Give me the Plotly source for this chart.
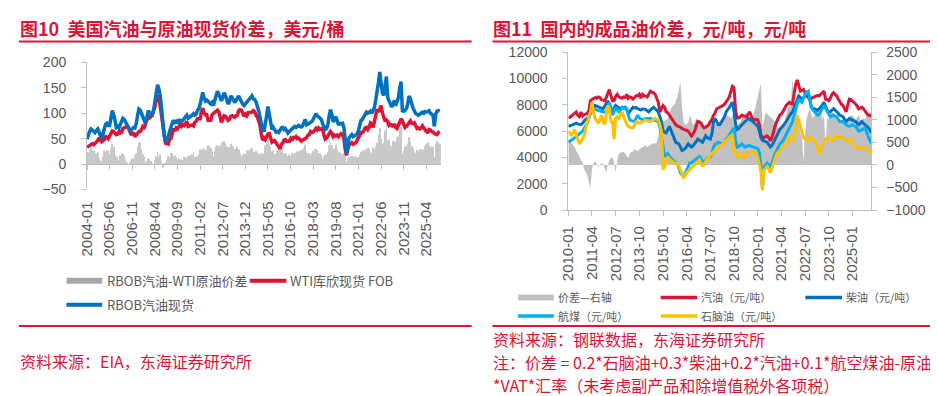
import plotly.graph_objects as go
import pandas as pd

# ---------------- data: left chart (USD/bbl, monthly from 2004-01) ----------------
rbob_spot = [
    49, 58, 64, 69, 67, 64, 62, 66, 69, 63, 55, 50,          # 2004
    60, 74, 78, 80, 76, 76, 88, 105, 98, 80, 72, 74,         # 2005
    71, 78, 84, 90, 88, 82, 77, 72, 68, 66, 70, 72,          # 2006
    71, 80, 95, 108, 106, 96, 93, 86, 80, 92, 105, 101,      # 2007
    99, 97, 105, 120, 140, 156, 148, 135, 110, 70, 55, 45,   # 2008
    48, 55, 61, 72, 80, 86, 82, 84, 80, 86, 86, 85,          # 2009
    86, 90, 94, 96, 90, 93, 94, 96, 99, 96, 98, 105,         # 2010
    109, 118, 131, 141, 130, 124, 126, 123, 121, 118, 121, 115,  # 2011
    125, 137, 143, 138, 130, 124, 132, 140, 135, 124, 118, 122,  # 2012
    134, 131, 126, 121, 125, 130, 134, 128, 121, 118, 115, 118,  # 2013
    122, 124, 128, 132, 134, 128, 127, 122, 115, 105, 92, 80,    # 2014
    68, 64, 85, 95, 113, 100, 85, 68, 72, 66, 63, 64,        # 2015
    62, 66, 71, 72, 68, 70, 66, 61, 64, 66, 68, 72,          # 2016
    74, 72, 75, 76, 74, 73, 75, 80, 88, 77, 78, 80,          # 2017
    82, 84, 88, 96, 99, 95, 93, 90, 88, 80, 72, 68,          # 2018
    70, 78, 95, 107, 98, 83, 88, 93, 85, 77, 80, 79,         # 2019
    80, 72, 50, 20, 40, 52, 55, 58, 54, 55, 57, 60,          # 2020
    66, 78, 86, 88, 92, 98, 102, 100, 102, 104, 100, 105,    # 2021
    112, 127, 150, 160, 181, 165, 140, 135, 150, 172, 130, 124,  # 2022
    116, 112, 118, 125, 115, 122, 130, 150, 162, 105, 104, 106,  # 2023
    109, 118, 134, 128, 115, 110, 105, 99, 98, 96, 98, 100,  # 2024
    102, 100, 103, 102, 104, 105, 100, 98, 96, 74, 98, 104,  # 2025
    105, 104,                                                # 2026
]
wti_spot = [
    33, 35, 36, 37, 40, 38, 41, 45, 46, 52, 48, 44,          # 2004
    46, 48, 54, 53, 50, 56, 59, 65, 64, 62, 58, 59,          # 2005
    64, 61, 62, 70, 71, 72, 74, 72, 63, 59, 59, 62,          # 2006
    54, 59, 60, 64, 64, 68, 74, 72, 78, 86, 94, 91,          # 2007
    93, 96, 105, 112, 125, 132, 133, 116, 104, 77, 57, 41,   # 2008
    40, 39, 48, 50, 59, 70, 65, 71, 69, 75, 78, 74,          # 2009
    78, 76, 81, 84, 74, 75, 76, 77, 75, 82, 84, 89,          # 2010
    89, 89, 103, 110, 101, 97, 97, 86, 86, 86, 97, 99,       # 2011
    100, 102, 106, 103, 94, 82, 88, 95, 94, 89, 86, 88,      # 2012
    94, 95, 93, 92, 95, 96, 105, 107, 106, 100, 94, 98,      # 2013
    95, 101, 101, 102, 102, 105, 103, 96, 93, 85, 76, 59,    # 2014
    47, 51, 48, 54, 59, 60, 51, 43, 45, 46, 42, 37,          # 2015
    32, 30, 38, 41, 47, 48, 45, 45, 45, 50, 46, 52,          # 2016
    52, 54, 50, 51, 49, 45, 47, 48, 50, 52, 57, 58,          # 2017
    64, 62, 63, 66, 70, 67, 71, 68, 70, 70, 57, 49,          # 2018
    51, 55, 58, 64, 61, 54, 57, 55, 57, 54, 57, 60,          # 2019
    58, 51, 30, 17, 29, 38, 40, 42, 39, 40, 42, 47,          # 2020
    52, 59, 62, 62, 65, 71, 72, 68, 72, 81, 79, 72,          # 2021
    83, 92, 108, 102, 110, 115, 101, 92, 84, 87, 84, 76,     # 2022
    78, 77, 73, 79, 72, 70, 76, 81, 89, 85, 78, 72,          # 2023
    74, 77, 81, 85, 80, 79, 81, 77, 70, 71, 69, 71,          # 2024
    75, 71, 68, 63, 61, 68, 67, 64, 63, 60, 59, 58,          # 2025
    62, 64,                                                  # 2026
]
left_start = "2004-01-01"
left_ticks = ["2004-01", "2005-06", "2006-11", "2008-04", "2009-09", "2011-02",
              "2012-07", "2013-12", "2015-05", "2016-10", "2018-03", "2019-08",
              "2021-01", "2022-06", "2023-11", "2025-04"]

# ---------------- data: right chart (CNY/t, monthly from 2010-01) ----------------
gasoline = [
    7100, 7050, 7150, 7250, 7300, 7460, 7200, 7100, 7460, 7150, 7250, 7300,   # 2010
    7340, 7600, 8310, 8400, 8500, 8550, 8500, 8600, 8550, 8400, 8350, 8310,   # 2011
    8550, 8900, 9160, 8700, 8310, 8310, 8650, 8800, 8600, 8550, 8500, 8600,   # 2012
    8550, 8800, 8500, 8600, 8550, 8430, 8600, 8700, 8680, 8800, 8500, 8800,   # 2013
    8680, 8680, 8600, 8800, 9040, 8950, 8920, 8800, 8550, 8200, 7460, 7700,   # 2014
    7950, 7800, 7460, 7400, 7220, 7000, 6850, 6700, 6500, 6400, 6370, 6300,   # 2015
    6200, 6120, 6100, 6050, 6000, 5800, 5640, 5800, 6000, 6400, 6730, 6700,   # 2016
    6610, 6400, 6250, 6300, 6370, 6500, 6730, 6900, 7220, 7400, 7700, 7750,   # 2017
    7820, 7900, 7950, 8050, 8190, 8400, 8600, 9000, 9400, 9280, 7500, 7000,   # 2018
    7000, 7100, 7220, 7150, 7100, 7100, 7300, 7460, 7100, 6900, 6850, 6900,   # 2019
    6850, 6500, 5760, 5500, 5520, 5600, 5640, 5500, 5270, 5500, 6000, 6400,   # 2020
    6730, 7000, 7220, 7300, 7460, 7700, 7950, 8100, 8190, 8100, 8070, 8800,   # 2021
    9530, 9890, 9400, 9040, 9100, 9160, 8900, 8680, 8550, 8430, 8500, 8550,   # 2022
    8600, 8680, 8700, 8680, 8800, 8920, 9040, 8430, 8400, 8310, 8500, 8800,   # 2023
    8920, 8800, 8680, 8450, 8190, 8050, 7950, 7700, 7460, 8000, 8430, 8400,   # 2024
    8310, 8200, 8070, 7900, 7700, 7750, 7820, 7700, 7460, 7350, 7220, 7200,   # 2025
    7170,                                                                     # 2026
]
diesel = [
    6370, 6400, 6450, 6500, 6550, 6610, 6550, 6500, 6490, 6600, 6800, 6900,   # 2010
    6970, 7100, 7300, 7460, 7700, 7950, 7900, 7850, 7820, 7750, 7700, 7900,   # 2011
    8100, 8310, 8000, 7700, 7600, 7800, 7950, 7850, 7750, 7700, 7750, 7800,   # 2012
    7820, 7600, 7340, 7500, 7700, 7820, 7750, 7800, 7700, 7650, 7600, 7700,   # 2013
    7700, 7650, 7550, 7460, 7600, 7700, 7820, 7700, 7600, 7460, 7100, 6730,   # 2014
    6000, 5900, 5880, 6100, 6370, 6100, 5760, 5400, 5150, 5100, 5030, 4800,   # 2015
    4540, 4600, 4670, 4850, 5030, 4900, 4790, 4900, 5030, 5200, 5400, 5300,   # 2016
    5200, 5150, 5400, 5640, 5500, 5450, 5400, 5800, 6730, 6970, 6700, 6490,   # 2017
    6500, 6730, 6900, 7100, 7460, 7600, 7800, 8000, 8190, 7500, 6490, 6120,   # 2018
    6200, 6370, 6500, 6600, 6730, 6850, 6970, 6900, 6800, 6730, 6600, 6500,   # 2019
    6370, 6000, 5520, 5300, 5270, 5200, 5150, 5000, 4790, 4900, 5150, 5450,   # 2020
    5760, 5950, 6120, 6250, 6370, 6550, 6730, 6950, 7220, 7350, 7460, 7800,   # 2021
    8190, 8400, 8680, 8550, 8430, 8550, 8680, 8800, 8920, 8400, 7820, 7750,   # 2022
    7700, 7650, 7580, 7700, 7820, 8000, 8190, 7900, 7580, 7500, 7460, 7600,   # 2023
    7700, 7600, 7460, 7350, 7220, 7150, 7100, 6900, 6730, 6850, 6970, 6900,   # 2024
    6850, 6800, 6730, 6600, 6490, 6600, 6730, 6600, 6490, 6400, 6250, 6100,   # 2025
    5880,                                                                     # 2026
]
jet_fuel = [
    5150, 5250, 5300, 5400, 5500, 5550, 5640, 5800, 5900, 6000, 6200, 6400,   # 2010
    6610, 7000, 7460, 7600, 7700, 7650, 7600, 7580, 7500, 7460, 7460, 7460,   # 2011
    7460, 7800, 8190, 7700, 7220, 7500, 7820, 7600, 7460, 7600, 7820, 7750,   # 2012
    7700, 7700, 7200, 6850, 6800, 6750, 6730, 7000, 7220, 7000, 6900, 6850,   # 2013
    6900, 6970, 6950, 6950, 6970, 6900, 6850, 6850, 6800, 6730, 6300, 5520,   # 2014
    4600, 4060, 4200, 4300, 4100, 3940, 3800, 3690, 3600, 3570, 3200, 2840,   # 2015
    2700, 2600, 2800, 3090, 3300, 3570, 3600, 3690, 3750, 3820, 3950, 4060,   # 2016
    3900, 3700, 3570, 3750, 3940, 4000, 4060, 4300, 4790, 5000, 5100, 5150,   # 2017
    5100, 5050, 5030, 5150, 5400, 5500, 5700, 5900, 6100, 6250, 5270, 4790,   # 2018
    4850, 4950, 5030, 4900, 4790, 4850, 4900, 4910, 4850, 4800, 4790, 4750,   # 2019
    4670, 4400, 3330, 1630, 3330, 3400, 3570, 3450, 3330, 3600, 4060, 4300,   # 2020
    4540, 4800, 5030, 5150, 5270, 5500, 5760, 6000, 6250, 6500, 6730, 7200,   # 2021
    7700, 8100, 8430, 8300, 8190, 8500, 8800, 8950, 9040, 8400, 7820, 7600,   # 2022
    7460, 7350, 7220, 7300, 7460, 7700, 7950, 7700, 7460, 7300, 7100, 7150,   # 2023
    7220, 7150, 7100, 6900, 6730, 6730, 6730, 6600, 6490, 6400, 6370, 6450,   # 2024
    6490, 6400, 6370, 6200, 6000, 6050, 6120, 6200, 6250, 5900, 5520, 5300,   # 2025
    5080,                                                                     # 2026
]
naphtha = [
    6000, 5800, 5640, 5900, 6120, 5700, 5300, 5030, 5200, 5400, 5640, 6200,   # 2010
    6730, 7100, 7460, 8190, 7500, 6970, 6800, 6610, 6900, 7220, 6800, 6490,   # 2011
    7200, 7950, 7700, 6730, 6700, 5400, 7000, 7100, 6970, 7200, 7460, 7100,   # 2012
    6730, 6500, 6370, 6300, 6250, 6250, 6500, 6730, 6700, 6610, 6650, 6730,   # 2013
    6800, 6850, 6800, 6750, 6730, 6800, 6900, 6970, 6900, 6850, 6500, 6000,   # 2014
    3090, 3330, 3700, 4060, 3900, 3820, 3700, 3570, 3570, 3570, 3300, 3090,   # 2015
    2800, 2480, 2600, 2840, 2950, 3090, 3200, 3330, 3450, 3570, 3700, 3820,   # 2016
    3600, 3330, 3500, 3690, 3900, 4060, 4200, 4300, 4400, 4540, 4650, 4790,   # 2017
    4850, 4910, 5000, 5150, 5250, 5400, 5550, 5650, 5760, 4540, 4300, 4060,   # 2018
    4200, 4300, 4100, 3940, 4100, 4300, 4300, 4300, 4350, 4420, 4350, 4300,   # 2019
    4000, 3570, 3000, 1510, 3090, 3200, 3330, 3100, 2840, 3200, 3570, 3950,   # 2020
    4300, 4400, 4540, 4650, 4790, 4900, 5030, 5300, 5520, 5400, 5270, 5500,   # 2021
    6000, 7220, 6800, 6490, 6000, 5520, 5400, 5270, 5400, 5520, 5450, 5400,   # 2022
    5200, 5030, 4700, 4300, 4700, 5030, 5200, 5400, 5450, 5520, 5400, 5270,   # 2023
    5400, 5640, 5600, 5520, 5520, 5520, 5450, 5400, 5350, 5270, 5350, 5400,   # 2024
    5100, 4910, 4800, 4670, 4700, 4790, 4790, 4790, 4750, 4670, 4550, 4420,   # 2025
    4420,                                                                     # 2026
]
crack_spread = [
    600, 550, 500, 450, 400, 320, 250, 180, 110, 50, -100, -150,             # 2010
    -240, -400, -525, -100, 50, 80, 20, -30, 0, 40, 20, -100,                # 2011
    -170, 0, 110, 150, 180, 50, -170, 100, 250, 270, 290, 300,               # 2012
    250, 200, 150, 250, 300, 300, 350, 330, 300, 350, 380, 400,              # 2013
    420, 430, 400, 420, 450, 470, 480, 470, 500, 600, 750, 960,              # 2014
    960, 980, 1000, 1030, 1100, 1250, 1300, 1320, 1400, 1500, 1670, 1850,   # 2015
    1300, 960, 900, 890, 950, 1100, 1000, 890, 950, 1030, 1000, 1000,        # 2016
    950, 900, 860, 880, 890, 900, 960, 930, 900, 890, 920, 950,              # 2017
    960, 980, 1000, 1030, 1060, 1100, 1080, 1030, 1100, 1170, 1000, 890,     # 2018
    920, 960, 1030, 1100, 1130, 1170, 1100, 1070, 1080, 1100, 1200, 1350,    # 2019
    1450, 1600, 1810, 820, 1000, 1170, 1130, 1100, 1050, 1030, 1000, 960,    # 2020
    900, 820, 850, 890, 920, 960, 1100, 1250, 1300, 1390, 1920, 1300,        # 2021
    1320, 1100, 960, 700, 610, 80, 700, 1030, 1150, 1250, 1100, 1030,        # 2022
    1100, 1250, 1150, 1170, 1200, 1000, 1100, 450, 1050, 1000, 1100, 1150,   # 2023
    1170, 1100, 1050, 1100, 1000, 950, 1000, 1050, 1000, 950, 1050, 1100,    # 2024
    1100, 1050, 1000, 1050, 1100, 1000, 950, 1050, 1000, 1100, 1150, 1170,   # 2025
    1170,                                                                    # 2026
]
right_start = "2010-01-01"
right_ticks = ["2010-01", "2011-04", "2012-07", "2013-10", "2015-01", "2016-04",
               "2017-07", "2018-10", "2020-01", "2021-04", "2022-07", "2023-10",
               "2025-01"]

# ---------------- styling ----------------
W, H = 938, 396
FONT = "Liberation Sans, Arial, Noto Sans CJK SC, sans-serif"
CJK = "Noto Sans CJK SC, Liberation Sans, sans-serif"
RED = "#DC1436"
BLUE = "#0070C0"
LBLUE = "#00B0F0"
YELLOW = "#FFC000"
TXT = "#595959"
AX = "#BFBFBF"


def fx(px):
    return px / W


def fy(py):
    return 1 - py / H


left_dates = pd.date_range(left_start, periods=len(rbob_spot), freq="MS")
right_dates = pd.date_range(right_start, periods=len(gasoline), freq="MS")
rbob_wti_spread = [b - w for b, w in zip(rbob_spot, wti_spot)]

fig = go.Figure()

# left chart
fig.add_trace(go.Bar(x=left_dates, y=rbob_wti_spread, marker=dict(color="#C8C8C8", line=dict(width=0)),
                     xaxis="x", yaxis="y", showlegend=False, hoverinfo="skip"))
fig.add_trace(go.Scatter(x=left_dates, y=wti_spot, mode="lines", line=dict(color=RED, width=3.5),
                         xaxis="x", yaxis="y", showlegend=False))
fig.add_trace(go.Scatter(x=left_dates, y=rbob_spot, mode="lines", line=dict(color=BLUE, width=3.5),
                         xaxis="x", yaxis="y", showlegend=False))
# invisible anchor trace so the zero-crossing category axis is drawn
fig.add_trace(go.Scatter(x=left_dates[:1], y=[0], mode="markers", marker=dict(opacity=0),
                         xaxis="x3", yaxis="y", showlegend=False, hoverinfo="skip"))

# right chart: area on base axis (right side), lines on overlay (left side)
fig.add_trace(go.Scatter(x=right_dates, y=crack_spread, mode="lines", fill="tozeroy",
                         fillcolor="#C0C0C0", line=dict(width=0, color="#C0C0C0"),
                         xaxis="x2", yaxis="y2", showlegend=False))
for ser, col in [(gasoline, RED), (diesel, BLUE), (jet_fuel, LBLUE), (naphtha, YELLOW)]:
    fig.add_trace(go.Scatter(x=right_dates, y=ser, mode="lines", line=dict(color=col, width=3),
                             xaxis="x2", yaxis="y4", showlegend=False))

# geometry
L_X0, L_X1, L_YT, L_YB = 70.7, 428.0, 48.3, 180.8
R_X0, R_X1, R_YT, R_YB = 556.7, 862.7, 37.7, 202.3
l_ydom = [fy(L_YB), fy(L_YT)]
zero_pos = l_ydom[0] + (0 - (-50)) / 250 * (l_ydom[1] - l_ydom[0])

tickfont = dict(family=FONT, size=14, color=TXT)
xtickfont = dict(family=FONT, size=15, color=TXT)

fig.update_layout(
    width=W, height=H, margin=dict(l=0, r=0, t=0, b=0),
    paper_bgcolor="white", plot_bgcolor="white",
    bargap=0.35, showlegend=False,
    font=dict(family=FONT, color=TXT),
    xaxis=dict(domain=[fx(L_X0), fx(L_X1)], anchor="y", type="date",
               range=[pd.Timestamp("2004-01-01"), pd.Timestamp("2026-02-28")],
               tickvals=pd.to_datetime(left_ticks), ticktext=left_ticks, tickangle=-90,
               showline=False, ticks="", showgrid=False, zeroline=False,
               tickfont=xtickfont, ticklabelstandoff=8),
    xaxis3=dict(overlaying="x", anchor="free", position=zero_pos, type="date",
                range=[pd.Timestamp("2004-01-01"), pd.Timestamp("2026-02-28")],
                tickvals=pd.to_datetime(left_ticks), showticklabels=False,
                ticks="outside", ticklen=5, tickcolor=AX, showline=True, linecolor=AX,
                linewidth=1, showgrid=False, zeroline=False),
    yaxis=dict(domain=l_ydom, anchor="x", range=[-50, 200], tickmode="linear", tick0=-50, dtick=50,
               tickformat="d",
               showline=True, linecolor=AX, linewidth=1, ticks="outside", ticklen=5, tickcolor=AX,
               showgrid=False, zeroline=False, tickfont=tickfont, ticklabelstandoff=12),
    xaxis2=dict(domain=[fx(R_X0), fx(R_X1)], anchor="y2", type="date",
                range=[pd.Timestamp("2010-01-01"), pd.Timestamp("2026-01-01")],
                tickvals=pd.to_datetime(right_ticks), ticktext=right_ticks, tickangle=-90,
                showline=True, linecolor=AX, linewidth=1, ticks="outside", ticklen=5, tickcolor=AX,
                showgrid=False, zeroline=False, tickfont=xtickfont, ticklabelstandoff=4),
    yaxis2=dict(domain=[fy(R_YB), fy(R_YT)], anchor="x2", side="right", range=[-1000, 2500],
                tickmode="linear", tick0=-1000, dtick=500, tickformat="d",
                showline=True, linecolor=AX, linewidth=1, ticks="outside", ticklen=5, tickcolor=AX,
                showgrid=False, zeroline=False, tickfont=tickfont, ticklabelstandoff=6),
    yaxis4=dict(overlaying="y2", anchor="x2", side="left", range=[0, 12000],
                tickmode="linear", tick0=0, dtick=2000, tickformat="d",
                showline=True, linecolor=AX, linewidth=1, ticks="outside", ticklen=5, tickcolor=AX,
                showgrid=False, zeroline=False, tickfont=tickfont, ticklabelstandoff=12),
)

shapes = []
annotations = []


def hline(x0, x1, y, color, width):
    shapes.append(dict(type="line", xref="paper", yref="paper", x0=fx(x0), x1=fx(x1),
                       y0=fy(y), y1=fy(y), line=dict(color=color, width=width)))


def text(x, y, s, size, color, family=CJK):
    annotations.append(dict(xref="paper", yref="paper", x=fx(x), y=fy(y), text=s,
                            showarrow=False, xanchor="left", yanchor="middle",
                            font=dict(family=family, size=size, color=color),
                            align="left"))


# titles and rules
text(1, 13, "<b>图10\u00a0\u00a0美国汽油与原油现货价差，美元/桶</b>", 18, RED)
text(479, 13, "<b>图11\u00a0\u00a0国内的成品油价差，元/吨，元/吨</b>", 18, RED)
hline(2, 459, 26.5, RED, 2)
hline(480, 938, 26.5, RED, 2)
hline(2, 459, 323, RED, 2)
hline(480, 938, 323, RED, 2)

# left legend
hline(50, 86, 276, "#A6A6A6", 6)
text(89, 276, "RBOB汽油-WTI原油价差", 13, TXT)
hline(235, 272, 276, RED, 4)
text(274, 276, "WTI库欣现货 FOB", 13, TXT)
hline(50, 86, 301, BLUE, 4)
text(89, 301, "RBOB汽油现货", 13, TXT)

# right legend
hline(506, 542, 293.3, "#BFBFBF", 6)
text(544, 293.3, "价差—右轴", 11, TXT)
hline(650, 687, 293.3, RED, 3.5)
text(689, 293.3, "汽油（元/吨）", 11, TXT)
hline(796, 833, 293.3, BLUE, 3.5)
text(835, 293.3, "柴油（元/吨）", 11, TXT)
hline(506, 542, 312.7, LBLUE, 3.5)
text(544, 312.7, "航煤（元/吨）", 11, TXT)
hline(650, 687, 312.7, YELLOW, 3.5)
text(689, 312.7, "石脑油（元/吨）", 11, TXT)

# sources / notes
text(1, 360, "资料来源：EIA，东海证券研究所", 16, RED)
text(479, 337, "资料来源：钢联数据，东海证券研究所", 16, RED)
text(479, 361, "注：价差 = 0.2*石脑油+0.3*柴油+0.2*汽油+0.1*航空煤油-原油", 16, RED)
text(479, 385, "*VAT*汇率（未考虑副产品和除增值税外各项税）", 16, RED)

fig.update_layout(shapes=shapes, annotations=annotations)
fig.write_html("out.html")
